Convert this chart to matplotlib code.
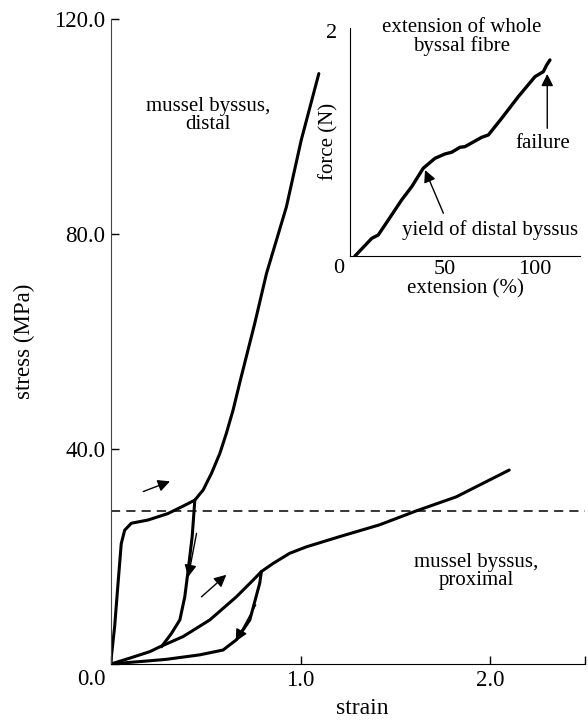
import matplotlib.pyplot as plt

plt.rcParams['font.family'] = ['Liberation Serif', 'DejaVu Serif']

# distal byssus: loading then unloading
distal_load_x = [0, 0.002, 0.019, 0.037, 0.054, 0.072, 0.107, 0.195, 0.3, 0.381, 0.442,
                 0.486, 0.53, 0.574, 0.608, 0.644, 0.682, 0.758, 0.82, 0.925, 1.003, 1.096]
distal_load_y = [0, 1.4, 6.9, 15.0, 22.4, 24.9, 26.2, 26.8, 28.0, 29.4, 30.5,
                 32.4, 35.5, 39.2, 42.9, 47.3, 52.8, 63.4, 72.7, 85.1, 97.5, 109.9]
distal_unload_x = [0.442, 0.428, 0.407, 0.389, 0.363, 0.319, 0.266]
distal_unload_y = [30.5, 23.7, 17.5, 12.5, 8.2, 5.7, 3.2]

# proximal byssus: loading, unloading, reloading to failure
prox_load_x = [0, 0.1, 0.205, 0.258, 0.38, 0.521, 0.661, 0.749, 0.793, 0.854, 0.942,
               1.03, 1.205, 1.416, 1.61, 1.82, 2.1]
prox_load_y = [0, 1.1, 2.3, 3.2, 5.1, 8.2, 12.5, 15.6, 17.2, 18.7, 20.6,
               21.8, 23.7, 25.9, 28.5, 31.1, 36.1]
prox_unload_x = [0.793, 0.784, 0.732, 0.661, 0.591, 0.468, 0.293, 0.205, 0.1, 0]
prox_unload_y = [17.2, 15.0, 8.2, 4.5, 2.6, 1.7, 0.87, 0.6, 0.3, 0]

yield_stress = 28.5

# inset: whole byssal fibre
ext = [0, 9.3, 12.9, 18.5, 25.9, 31.5, 37.9, 44.4, 50.0, 53.7, 58.3, 61.1, 70.4,
       74.1, 81.5, 90.7, 100.0, 104.6, 106.5, 108.3]
force = [0, 0.157, 0.187, 0.32, 0.498, 0.616, 0.78, 0.868, 0.907, 0.922, 0.966, 0.972,
         1.055, 1.076, 1.224, 1.416, 1.594, 1.638, 1.698, 1.742]

fig = plt.figure(figsize=(5.88, 7.24), dpi=100)
ax = fig.add_axes([0.1888, 0.0829, 0.8062, 0.8904])

line = dict(color='black', lw=2.2, solid_capstyle='round', solid_joinstyle='round')
ax.plot(distal_load_x, distal_load_y, **line)
ax.plot(distal_unload_x, distal_unload_y, **line)
ax.plot(prox_load_x, prox_load_y, **line)
ax.plot(prox_unload_x, prox_unload_y, **line)
ax.axhline(yield_stress, color='black', lw=1.1, ls=(0, (6, 4)), clip_on=False)

arrow = dict(arrowstyle='-|>', color='black', lw=1, mutation_scale=18,
             shrinkA=0, shrinkB=0)
for (x0, y0), (x1, y1) in [((0.170, 32.1), (0.311, 34.0)),
                           ((0.451, 24.3), (0.407, 16.2)),
                           ((0.477, 12.5), (0.608, 16.6)),
                           ((0.763, 11.0), (0.658, 4.2))]:
    ax.annotate('', xy=(x1, y1), xytext=(x0, y0), arrowprops=arrow)

ax.text(0.51, 102.1, 'mussel byssus,\ndistal', ha='center', va='center',
        fontsize=15, linespacing=0.95)
ax.text(1.925, 17.2, 'mussel byssus,\nproximal', ha='center', va='center',
        fontsize=15, linespacing=0.95)

ax.set_xlim(0, 2.5)
ax.set_ylim(0, 120)
ax.set_xticks([0, 1, 2, 2.5])
ax.set_xticklabels(['', '1.0', '2.0', ''])
ax.set_yticks([0, 40, 80, 120])
ax.set_yticklabels(['', '40.0', '80.0', '120.0'])
ax.annotate('0.0', xy=(0, 0), xytext=(-20, -16), textcoords='offset pixels',
            ha='center', va='center', fontsize=16.5)
ax.tick_params(direction='in', length=6, width=1, labelsize=16.5, pad=4)
for s in ['top', 'right']:
    ax.spines[s].set_visible(False)
ax.spines['left'].set_color('#444444')
ax.set_xlabel('strain', fontsize=17)
ax.set_ylabel('stress (MPa)', fontsize=16.5)
ax.xaxis.set_label_coords(0.53, -0.053)
ax.yaxis.set_label_coords(-0.16, 0.5)

# inset
ins = fig.add_axes([0.5952, 0.6464, 0.3912, 0.3155])
ins.plot(ext, force, color='black', lw=2.4, solid_capstyle='round',
         solid_joinstyle='round')
ins.set_xlim(-2.8, 125)
ins.set_ylim(0, 2.03)
ins.set_xticks([50, 100])
ins.set_yticks([0, 2])
ins.set_yticklabels(['', '2'])
ins.tick_params(length=0, labelsize=16)
ins.tick_params(axis='y', pad=9)
ins.tick_params(axis='x', pad=3)
ins.annotate('0', xy=(-2.8, 0), xytext=(-11, -12), textcoords='offset pixels',
             ha='center', va='center', fontsize=16)
for s in ['top', 'right']:
    ins.spines[s].set_visible(False)
ins.patch.set_alpha(0)
ins.set_xlabel('extension (%)', fontsize=15)
ins.set_ylabel('force (N)', fontsize=15)
ins.xaxis.set_label_coords(0.5, -0.1)
ins.yaxis.set_label_coords(-0.05, 0.5)

ins.text(59.3, 1.947, 'extension of whole\nbyssal fibre', ha='center', va='center',
         fontsize=15, linespacing=0.95)
ins.text(104.4, 1.004, 'failure', ha='center', va='center', fontsize=15)
ins.text(75, 0.231, 'yield of distal byssus', ha='center', va='center', fontsize=15)
ins.annotate('', xy=(106.8, 1.618), xytext=(106.8, 1.135), arrowprops=arrow)
ins.annotate('', xy=(38.9, 0.764), xytext=(49.1, 0.38), arrowprops=arrow)

fig.savefig('out.png', dpi=100)
